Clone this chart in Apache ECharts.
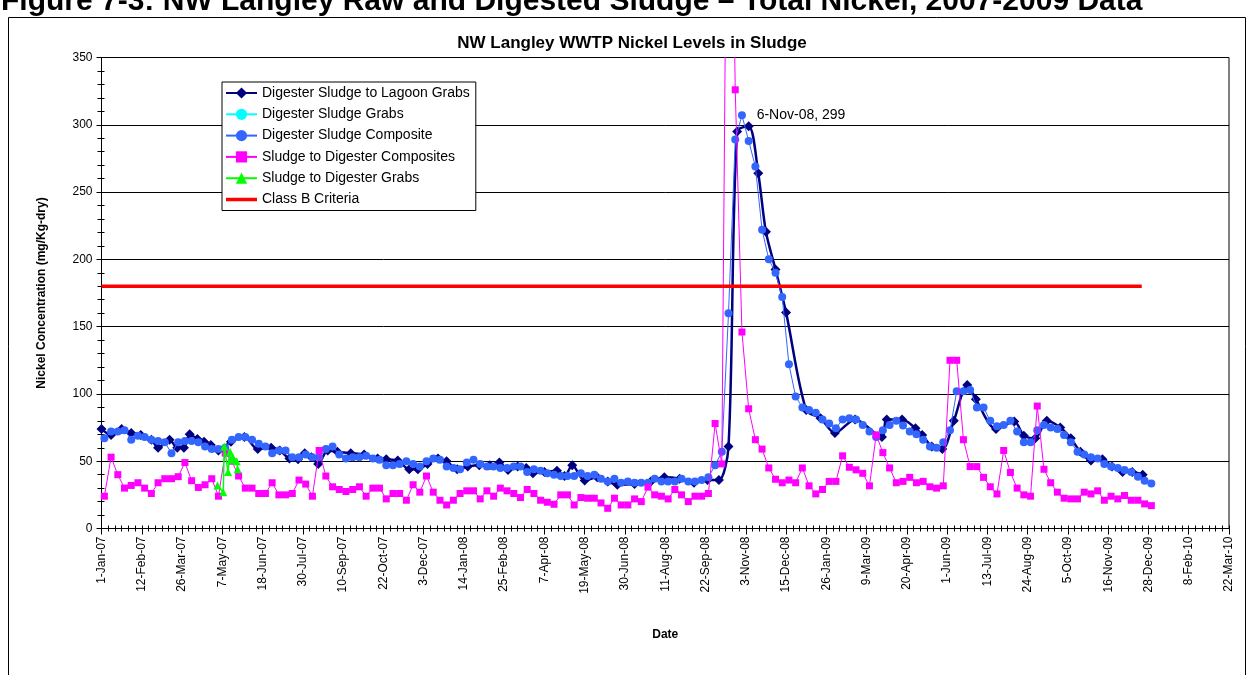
<!DOCTYPE html>
<html>
<head>
<meta charset="utf-8">
<title>NW Langley WWTP Nickel Levels in Sludge</title>
<script src="https://cdn.jsdelivr.net/npm/echarts@6/dist/echarts.min.js"></script>
<style>
  html, body { margin: 0; padding: 0; background: #fff; }
  #chart { width: 1247px; height: 675px; }
</style>
</head>
<body>
<div id="chart"></div>
<script>
// x axis runs in days counted from 1-Jan-07
const START = Date.UTC(2007, 0, 1)
const DAY = 864e5
const MONTHS = ['Jan', 'Feb', 'Mar', 'Apr', 'May', 'Jun', 'Jul', 'Aug', 'Sep', 'Oct', 'Nov', 'Dec']
const FONT = 'Liberation Sans, Arial, sans-serif'

// weekly composite samples, first one on 4-Jan-07
const weeklyStart = '2007-01-04'

// Digester Sludge Composite (mg/Kg-dry)
const compositeVals = [
  67, 72, 72, 73, 66, 69, 68, 66, 65, 64,
  56, 64, 65, 65, 64, 61, 59, 59, 60, 66,
  68, 68, 66, 63, 61, 56, 58, 58, 53, 53,
  55, 53, 53, 59, 61, 55, 52, 53, 53, 54,
  52, 51, 47, 47, 48, 50, 48, 46, 50, 52,
  51, 46, 45, 44, 49, 51, 48, 46, 46, 45,
  45, 46, 46, 42, 44, 43, 41, 40, 39, 39,
  39, 41, 39, 40, 37, 35, 37, 34, 35, 34,
  34, 34, 37, 35, 35, 35, 37, 35, 35, 36,
  38, 47, 57, 160, 289, 307, 288, 269, 222, 200,
  190, 172, 122, 98, 90, 88, 86, 81, 78, 74.5,
  81, 82, 81, 77, 72, 68, 73, 77, 80, 76.5,
  72, 70, 66, 61, 60, 64, 73, 102, 102, 103,
  90, 90, 80, 76, 77, 80, 72, 64, 64, 73,
  77, 75, 74, 69.5, 64, 57, 55, 53, 52, 48,
  46, 45, 43.5, 42, 38.5, 35.5, 33.5
]

// Sludge to Digester Composites (mg/Kg-dry)
const rawCompositeVals = [
  24, 53, 40, 30, 32, 34, 30, 26, 34, 37,
  37, 38.5, 49, 35.5, 30.5, 32.5, 37, 24, 56, 50,
  39, 30, 30, 26, 26, 34, 25, 25, 26, 36,
  33, 24, 58, 39, 31, 29, 27.5, 29, 31, 24,
  30, 30, 22, 26, 26, 21, 32.5, 27, 39, 27,
  21, 17.5, 21, 26, 28, 28, 22, 28, 24, 30,
  28, 26, 23, 29, 26, 21, 19.5, 18, 25, 25,
  17.5, 23, 22.5, 22.5, 19, 15, 22.5, 17.5, 17.5, 22,
  20, 30.7, 25, 24, 22, 29, 25, 20, 24, 24,
  26, 78, 48, 660, 326, 146, 89, 66, 59, 45,
  36.6, 34, 36, 34, 45, 31.7, 25.7, 29, 35, 35,
  54, 45.5, 43.6, 41, 31.7, 69.6, 56.4, 45, 34, 35,
  38, 34, 35, 31, 30, 31.7, 125, 125, 66, 46,
  46, 38, 31, 25.7, 58, 41.6, 30, 25, 24, 91,
  44, 34, 27, 22.5, 22, 22, 27, 25.7, 28, 21,
  24, 22, 24.5, 21, 21, 18.3, 17
]

// Digester Sludge to Lagoon Grabs
const lagoonDates = [
  '2007-01-01', '2007-01-11', '2007-01-22', '2007-02-01', '2007-02-11', '2007-02-22', '2007-03-01', '2007-03-13', '2007-03-21', '2007-03-28',
  '2007-04-03', '2007-04-11', '2007-04-18', '2007-04-25', '2007-05-03', '2007-05-16', '2007-05-30', '2007-06-13', '2007-06-27', '2007-07-06',
  '2007-07-16', '2007-07-25', '2007-08-01', '2007-08-08', '2007-08-15', '2007-08-25', '2007-09-04', '2007-09-18', '2007-10-02', '2007-10-16',
  '2007-10-25', '2007-11-06', '2007-11-18', '2007-11-27', '2007-12-07', '2007-12-18', '2007-12-27',
  '2008-01-07', '2008-01-18', '2008-01-30', '2008-02-10', '2008-02-20', '2008-02-29', '2008-03-10', '2008-03-19', '2008-03-26', '2008-04-07',
  '2008-04-20', '2008-04-28', '2008-05-06', '2008-05-19', '2008-06-01', '2008-06-12', '2008-06-22', '2008-07-10', '2008-07-27', '2008-08-10',
  '2008-08-26', '2008-09-10', '2008-09-24', '2008-10-06', '2008-10-16', '2008-10-25', '2008-11-06', '2008-11-16', '2008-11-24', '2008-12-04',
  '2008-12-15',
  '2009-01-05', '2009-01-20', '2009-02-04', '2009-02-25', '2009-03-25', '2009-03-30', '2009-04-15', '2009-04-29', '2009-05-06', '2009-05-16',
  '2009-05-27', '2009-06-08', '2009-06-22', '2009-07-01', '2009-07-22', '2009-08-10', '2009-08-20', '2009-09-01', '2009-09-13', '2009-09-27',
  '2009-10-08', '2009-10-18', '2009-10-29', '2009-11-10', '2009-11-20', '2009-12-01', '2009-12-11', '2009-12-22'
]
const lagoonVals = [
  74, 69.5, 74, 71, 69.5, 66, 60, 66, 60, 60,
  70, 66.5, 64.5, 62, 58, 64.5, 68, 59, 60, 58,
  52, 51.5, 56, 53, 48, 58, 57, 56, 55, 52,
  51.5, 50.5, 44, 44, 48, 52, 50,
  44, 46, 47, 47, 49, 43.5, 46, 45, 41, 42,
  43, 39, 47, 35.6, 38, 35, 32.5, 33, 35, 38,
  37, 34, 36, 36, 61, 295, 299, 264, 220.5, 192.5,
  160.6,
  88, 82, 71, 81, 68, 81, 81, 74.5, 69.5, 61,
  59, 80, 106.7, 96, 74, 79.5, 69, 67, 80, 75,
  67, 57, 50.5, 51.5, 46, 42, 42, 40
]
const labelDate = '2008-11-06'

// Digester Sludge Grabs - no points visible
const grabDates = []
const grabVals = []

// Sludge to Digester Grabs
const rawGrabDates = ['2007-05-02', '2007-05-08', '2007-05-09', '2007-05-13', '2007-05-15', '2007-05-16', '2007-05-18', '2007-05-22', '2007-05-23']
const rawGrabVals = [32, 27, 61, 42, 57, 51, 53, 50, 44]

// Class B Criteria
const classBDates = ['2007-01-01', '2009-12-21']
const classBVals = [180, 180]

const dayOf = s => (Date.parse(s) - START) / DAY
const fmtDay = d => {
  const t = new Date(START + Math.round(d) * DAY)
  return t.getUTCDate() + '-' + MONTHS[t.getUTCMonth()] + '-' + String(t.getUTCFullYear()).slice(2)
}
const pairs = (dates, vals) => dates.map((d, i) => [dayOf(d), vals[i]])
const weekly = vals => vals.map((v, i) => [dayOf(weeklyStart) + 7 * i, v])

const lagoonData = pairs(lagoonDates, lagoonVals).map(p => {
  if (p[0] !== dayOf(labelDate)) return p
  return {
    value: p,
    label: {
      show: true,
      position: 'right',
      offset: [-2, -11],
      formatter: o => fmtDay(o.value[0]) + ', ' + o.value[1],
      fontSize: 14,
      color: '#000',
      fontFamily: FONT
    }
  }
})

const chart = echarts.init(document.getElementById('chart'))

const tickStyle = { color: '#000', width: 1 }

chart.setOption({
  animation: false,
  backgroundColor: '#fff',
  textStyle: { fontFamily: FONT },
  graphic: [
    {
      type: 'rect',
      z: -1,
      shape: { x: 8.5, y: 17.5, width: 1237, height: 700 },
      style: { fill: 'none', stroke: '#000', lineWidth: 1 }
    },
    {
      type: 'text',
      x: 1,
      y: 17,
      style: {
        text: 'Figure 7-3: NW Langley Raw and Digested Sludge \u2013 Total Nickel, 2007-2009 Data',
        fontSize: 30,
        fontWeight: 'bold',
        fontFamily: FONT,
        fill: '#000',
        verticalAlign: 'bottom'
      }
    },
    {
      type: 'text',
      x: 632,
      y: 43,
      style: {
        text: 'NW Langley WWTP Nickel Levels in Sludge',
        fontSize: 17,
        fontWeight: 'bold',
        fontFamily: FONT,
        fill: '#000',
        align: 'center',
        verticalAlign: 'middle'
      }
    }
  ],
  grid: {
    left: 101.5,
    right: 18,
    top: 57.5,
    bottom: 146.5,
    show: true,
    borderColor: '#000',
    borderWidth: 1,
    backgroundColor: 'transparent'
  },
  legend: {
    orient: 'vertical',
    left: 222,
    top: 82,
    itemWidth: 31,
    itemHeight: 14,
    itemGap: 7.3,
    padding: [4, 6, 4, 3],
    borderColor: '#000',
    borderWidth: 1,
    backgroundColor: '#fff',
    selectedMode: false,
    textStyle: { fontSize: 14, color: '#000', fontFamily: FONT },
    data: [
      'Digester Sludge to Lagoon Grabs',
      'Digester Sludge Grabs',
      'Digester Sludge Composite',
      'Sludge to Digester Composites',
      'Sludge to Digester Grabs',
      { name: 'Class B Criteria', icon: 'path://M0,0M0,5.25H31V8.75H0ZM31,14' }
    ]
  },
  xAxis: [
    {
      type: 'value',
      min: 0,
      max: 1176,
      interval: 42,
      name: 'Date',
      nameLocation: 'middle',
      nameGap: 100,
      nameTextStyle: { fontSize: 12, fontWeight: 'bold', color: '#000' },
      axisLine: { lineStyle: tickStyle },
      axisTick: { length: 6, lineStyle: tickStyle },
      minorTick: { show: true, splitNumber: 6, length: 3, lineStyle: tickStyle },
      splitLine: { show: false },
      axisLabel: { rotate: 90, margin: 8, fontSize: 12, color: '#000', formatter: fmtDay }
    },
    {
      type: 'value',
      min: 0,
      max: 1176,
      interval: 42,
      position: 'bottom',
      axisLine: { show: false },
      axisTick: { inside: true, length: 3, lineStyle: tickStyle },
      minorTick: { show: true, splitNumber: 6, length: 3, lineStyle: tickStyle },
      splitLine: { show: false },
      axisLabel: { show: false }
    }
  ],
  yAxis: [
    {
      type: 'value',
      min: 0,
      max: 350,
      interval: 50,
      name: 'Nickel Concentration (mg/Kg-dry)',
      nameLocation: 'middle',
      nameGap: 54,
      nameTextStyle: { fontSize: 12, fontWeight: 'bold', color: '#000' },
      axisLine: { show: true, lineStyle: tickStyle },
      axisTick: { length: 5, lineStyle: tickStyle },
      minorTick: { show: true, splitNumber: 5, length: 4, lineStyle: tickStyle },
      splitLine: { show: true, lineStyle: { color: '#000', width: 1 } },
      axisLabel: { margin: 9, fontSize: 12, color: '#000' }
    },
    {
      type: 'value',
      min: 0,
      max: 350,
      interval: 50,
      position: 'left',
      axisLine: { show: false },
      axisTick: { inside: true, length: 3, lineStyle: tickStyle },
      minorTick: { show: true, splitNumber: 5, length: 3, lineStyle: tickStyle },
      splitLine: { show: false },
      axisLabel: { show: false }
    }
  ],
  series: [
    {
      name: 'Digester Sludge to Lagoon Grabs',
      type: 'line',
      data: lagoonData,
      smooth: 0.3,
      symbol: 'diamond',
      symbolSize: 10,
      showSymbol: true,
      showAllSymbol: true,
      color: '#000080',
      lineStyle: { width: 2.5, color: '#000080' },
      emphasis: { disabled: true },
      z: 2
    },
    {
      name: 'Digester Sludge Grabs',
      type: 'line',
      data: pairs(grabDates, grabVals),
      symbol: 'circle',
      symbolSize: 8,
      color: '#00ffff',
      lineStyle: { width: 1, color: '#00ffff' },
      emphasis: { disabled: true },
      z: 3
    },
    {
      name: 'Digester Sludge Composite',
      type: 'line',
      data: weekly(compositeVals),
      symbol: 'circle',
      symbolSize: 8,
      showSymbol: true,
      showAllSymbol: true,
      color: '#3366ff',
      lineStyle: { width: 1, color: '#3366ff' },
      emphasis: { disabled: true },
      z: 4
    },
    {
      name: 'Sludge to Digester Composites',
      type: 'line',
      data: weekly(rawCompositeVals),
      symbol: 'rect',
      symbolSize: 7,
      showSymbol: true,
      showAllSymbol: true,
      color: '#ff00ff',
      lineStyle: { width: 1, color: '#ff00ff' },
      emphasis: { disabled: true },
      z: 5
    },
    {
      name: 'Sludge to Digester Grabs',
      type: 'line',
      data: pairs(rawGrabDates, rawGrabVals),
      symbol: 'triangle',
      symbolSize: 8,
      showSymbol: true,
      showAllSymbol: true,
      color: '#00ff00',
      lineStyle: { width: 1.5, color: '#00ff00' },
      emphasis: { disabled: true },
      z: 6
    },
    {
      name: 'Class B Criteria',
      type: 'line',
      data: pairs(classBDates, classBVals),
      symbol: 'none',
      color: '#ff0000',
      lineStyle: { width: 3.5, color: '#ff0000' },
      emphasis: { disabled: true },
      z: 7
    }
  ]
})
</script>
</body>
</html>
